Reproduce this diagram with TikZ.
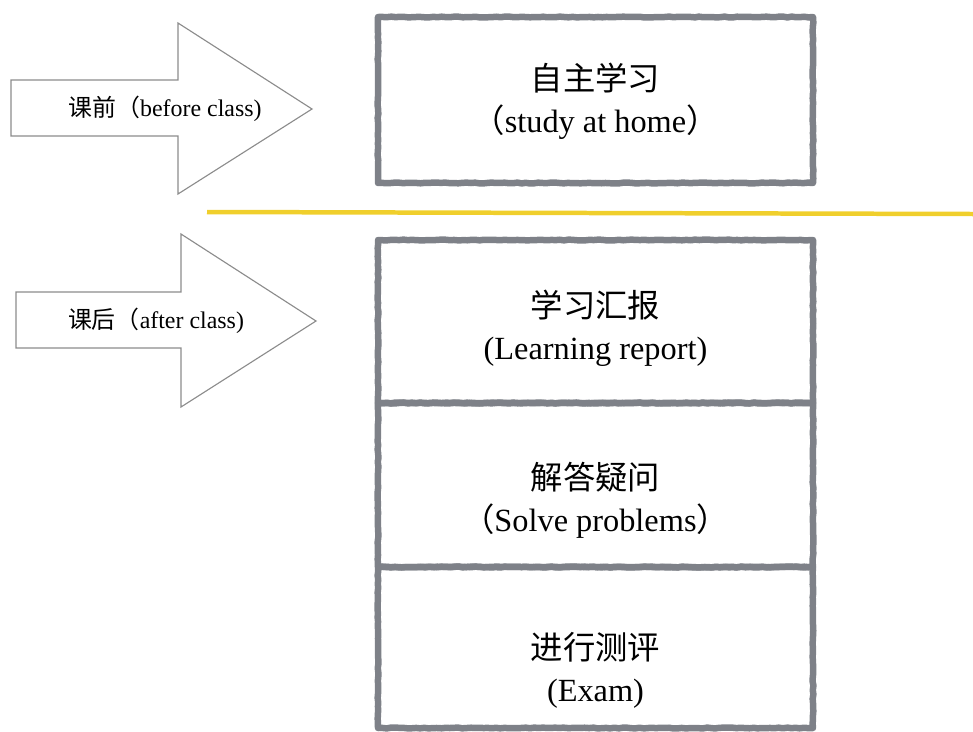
\documentclass[tikz,border=0pt]{standalone}
\usepackage{fontspec}
\setmainfont{Liberation Serif}
\newfontfamily\cjk{Noto Sans CJK SC}
\usepackage{tikz}
\usetikzlibrary{positioning, decorations.pathmorphing}
\definecolor{framegray}{HTML}{7E8188}
\definecolor{arrowgray}{HTML}{8C8C8C}
\definecolor{lineyellow}{HTML}{F0CF2C}
\tikzset{
  stage/.style={rectangle, draw=framegray, line width=6.5pt*0.025/0.0352,
                line join=round, line cap=round, outer sep=0pt,
                decorate, decoration={random steps, segment length=3pt, amplitude=0.3pt},
                minimum width=435*0.025cm, inner sep=0pt},
  stagetext/.style={align=center, font=\fontsize{23}{30}\selectfont, inner sep=0pt},
  sidearrow/.style={draw=arrowgray, line width=0.8pt, fill=white, line join=miter},
  sidelabel/.style={font=\fontsize{17}{20}\selectfont, inner sep=0pt},
}

\begin{document}
\begin{tikzpicture}[x=0.025cm, y=-0.025cm]
  \pgfmathsetseed{7}
  \useasboundingbox (0,0) rectangle (973,731);

  % Arrows on the left
  \draw[sidearrow] (11,80) -- (178,80) -- (178,23) -- (312,109)
                   -- (178,194) -- (178,136) -- (11,136) -- cycle;
  \node[sidelabel] (before) at (165,109) {{\cjk 课前（}before class)};

  \draw[sidearrow] (16,292) -- (181,292) -- (181,234) -- (316,321)
                   -- (181,407) -- (181,348) -- (16,348) -- cycle;
  \node[sidelabel] (after) at (156,321) {{\cjk 课后（}after class)};

  % Separator
  \draw[lineyellow, line width=4.5pt*0.025/0.0352] (207,212) -- (973,214);

  % Before class
  \node[stage, minimum height=166*0.025cm] (study) at (595.5,100) {};
  \node[stagetext] (studytxt) at (595.5,101)
       {{\cjk 自主学习}\\{\cjk （}study at home{\cjk ）}};

  % After class
  \node[stage, minimum height=163*0.025cm] (report) at (595.5,321.5) {};
  \node[stage, minimum height=164*0.025cm, below=0pt of report] (solve) {};
  \node[stage, minimum height=161*0.025cm, below=0pt of solve] (exam) {};

  \node[stagetext] (reporttxt) at (595.5,328) {{\cjk 学习汇报}\\(Learning report)};
  \node[stagetext] (solvetxt)  at (595.5,500) {{\cjk 解答疑问}\\{\cjk （}Solve problems{\cjk ）}};
  \node[stagetext] (examtxt)   at (595.5,670) {{\cjk 进行测评}\\(Exam)};

\end{tikzpicture}
\end{document}
